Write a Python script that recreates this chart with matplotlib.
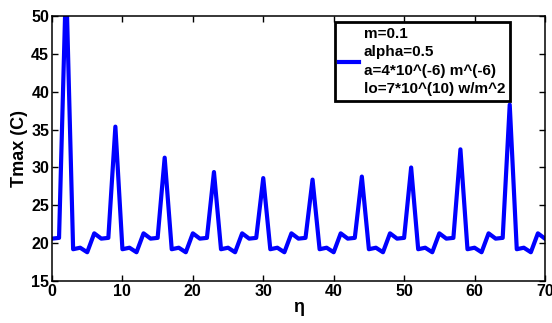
import matplotlib.pyplot as plt
import numpy as np

plt.rcParams['font.family'] = ['Liberation Sans', 'DejaVu Sans']
plt.rcParams['font.weight'] = 'bold'

eta = np.arange(0, 71)
# one period of 7 points, peak values differ per period
base = [20.6, 20.7, None, 19.2, 19.4, 18.8, 21.3]
peaks = [55.0, 35.4, 31.3, 29.4, 28.6, 28.4, 28.8, 30.0, 32.4, 38.3, 30.0]
tmax = []
for i in eta:
    k = i % 7
    if k == 2:
        tmax.append(peaks[i // 7])
    else:
        tmax.append(base[k])

legend_txt = 'm=0.1\nalpha=0.5\na=4*10^(-6) m^(-6)\nlo=7*10^(10) w/m^2'

fig = plt.figure(figsize=(5.52, 3.23), dpi=100)
ax = fig.add_axes([0.0942, 0.130, 0.893, 0.820])
ax.plot(eta, tmax, color='#0000ff', lw=3, label=legend_txt)

ax.set_xlim(0, 70)
ax.set_ylim(15, 50)
ax.set_xticks(np.arange(0, 71, 10))
ax.set_yticks(np.arange(15, 51, 5))
ax.tick_params(direction='in', top=True, right=True, labelsize=11.5, width=1, length=4, pad=2)
for lbl in ax.get_xticklabels() + ax.get_yticklabels():
    lbl.set_fontweight('bold')
for s in ax.spines.values():
    s.set_linewidth(1.1)
ax.set_xlabel('η', fontsize=13, fontweight='bold', labelpad=0)
ax.set_ylabel('Tmax (C)', fontsize=13, fontweight='bold', labelpad=2)

leg = ax.legend(loc='upper right', bbox_to_anchor=(0.929, 0.977), borderaxespad=0,
                fancybox=False, framealpha=1, edgecolor='black', handlelength=1.3,
                handletextpad=0.3, borderpad=0.3, labelspacing=0.2,
                prop={'weight': 'bold', 'size': 11})
leg.get_texts()[0].set_linespacing(1.4)
leg.get_frame().set_linewidth(2)

fig.savefig('out.png', dpi=100)
